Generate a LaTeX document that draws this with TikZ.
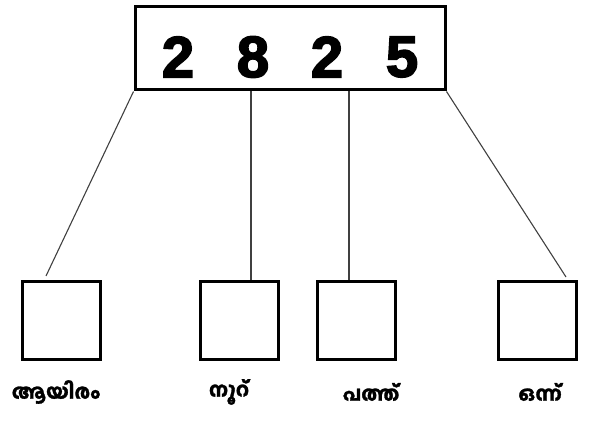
\documentclass[tikz,border=0pt]{standalone}
\usepackage{fontspec}
\setmainfont{Liberation Sans}
\newfontfamily\digitfont[FakeBold=3]{Liberation Sans Bold}
\newfontfamily\malfont[Script=Malayalam,FakeBold=1.5]{Hind Kochi Bold}
\begin{document}
\begin{tikzpicture}[x=1pt,y=1pt,
  topbox/.style={draw=black, line width=3pt, minimum width=310pt, minimum height=83pt, inner sep=0pt},
  smallbox/.style={draw=black, line width=3pt, minimum width=78pt, minimum height=78pt, inner sep=0pt},
  digit/.style={font=\digitfont\fontsize{58}{58}\selectfont, inner sep=0pt},
  lbl/.style={font=\malfont\fontsize{20}{22}\selectfont, inner sep=0pt},
  conn/.style={draw=black!75, line width=1.1pt}]
\useasboundingbox (0,0) rectangle (589,428);
\node[topbox] (top) at (290,379.5) {};
\node[digit] (d1) at (178,371) {2};
\node[digit] (d2) at (253,371) {8};
\node[digit] (d3) at (327,371) {2};
\node[digit] (d4) at (402,371) {5};
\node[smallbox] (b1) at (61,107.5) {};
\node[smallbox] (b2) at (239,107.5) {};
\node[smallbox] (b3) at (356.5,107.5) {};
\node[smallbox] (b4) at (537,107.5) {};
\coordinate (c1) at (46,152);
\coordinate (c4) at (566,151);
\coordinate (x2) at (251,0);
\coordinate (x3) at (349,0);
\draw[conn] (top.south west) -- (c1);
\draw[conn] (top.south -| x2) -- (b2.north -| x2);
\draw[conn] (top.south -| x3) -- (b3.north -| x3);
\draw[conn] (top.south east) -- (c4);
\node[lbl] (l1) at (56,36) {ആയിരം};
\node[lbl] (l2) at (229,36) {നൂറ്};
\node[lbl] (l3) at (371,36) {പത്ത്};
\node[lbl] (l4) at (540,36) {ഒന്ന്};
\end{tikzpicture}
\end{document}
